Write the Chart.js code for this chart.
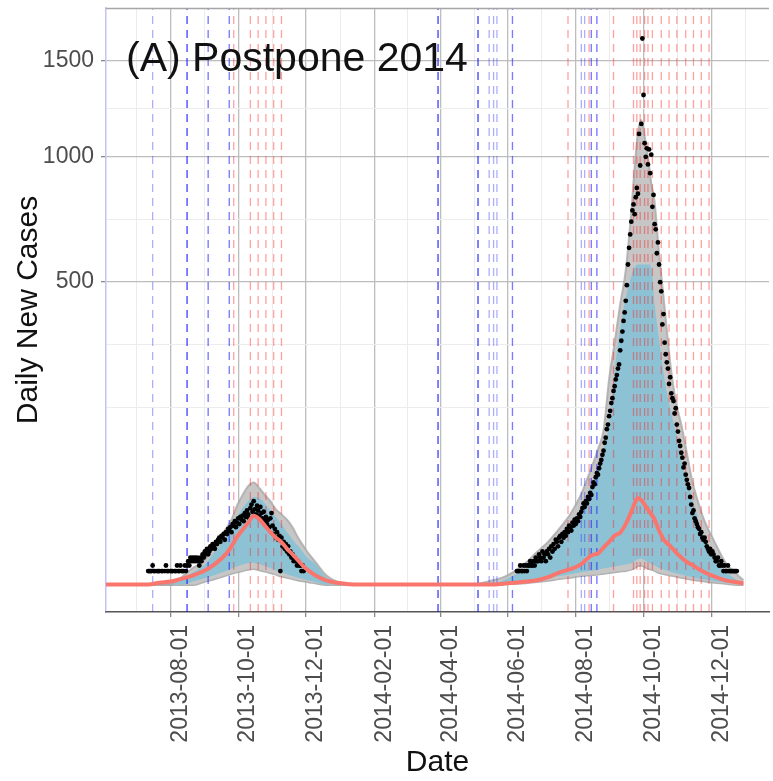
<!DOCTYPE html>
<html>
<head>
<meta charset="utf-8">
<script src="https://cdn.jsdelivr.net/npm/chart.js@4.4.0/dist/chart.umd.min.js"></script>
<style>
  html, body { margin: 0; padding: 0; background: #ffffff; overflow: hidden; }
  #wrap { width: 773px; height: 781px; }
</style>
</head>
<body>
<div id="wrap"><canvas id="c" width="773" height="781"></canvas></div>
<script>
// ---------- axis extents and tick labels ----------
const xStart = '2013-06-04';
const xEnd = '2015-01-22';
const xTickLabels = ['2013-08-01', '2013-10-01', '2013-12-01', '2014-02-01', '2014-04-01',
                     '2014-06-01', '2014-08-01', '2014-10-01', '2014-12-01'];
const yTickValues = [500, 1000, 1500];
const yLimits = [-4.1, 1817];
const panelTitle = '(A) Postpone 2014';

// ---------- control measure dates (dashed markers) ----------
const blueLineDates = [
  '2013-07-16', '2013-08-16', '2013-08-16', '2013-08-16', '2013-09-04', '2013-09-04',
  '2013-09-23', '2013-09-23',
  '2014-03-30', '2014-03-30', '2014-03-30', '2014-05-05', '2014-05-05', '2014-05-05',
  '2014-05-15', '2014-05-19', '2014-05-22', '2014-06-05', '2014-06-05',
  '2014-08-06', '2014-08-09', '2014-08-15', '2014-08-15', '2014-08-20', '2014-08-20'
];
const redLineDates = [
  '2013-09-27', '2013-10-12', '2013-10-19', '2013-10-26', '2013-11-02', '2013-11-09',
  '2014-07-25', '2014-08-13', '2014-09-04', '2014-09-22', '2014-09-25', '2014-09-28',
  '2014-10-02', '2014-10-05', '2014-10-09', '2014-10-17', '2014-10-24', '2014-10-31',
  '2014-11-08', '2014-11-15', '2014-11-22', '2014-11-29'
];

// ---------- simulation summaries, sampled by day offset from 2013-08-01 ----------
const bandDays = [
  -58, -40, -20, -10, 0, 10, 20, 30, 40, 50,
  55, 60, 65, 70, 75, 80, 85, 90, 95, 100,
  105, 110, 115, 120, 125, 130, 140, 150, 170, 200,
  240, 270, 290, 300, 310, 320, 330, 340, 350, 360,
  370, 375, 380, 385, 390, 395, 400, 405, 410, 415,
  418, 421, 424, 427, 430, 433, 436, 440, 445, 450,
  455, 460, 465, 470, 475, 480, 490, 500, 510, 516
];
const meanLine = [
  0, 0, 0, 0.02, 0.05, 0.18, 0.45, 1.0, 2.3, 5.1,
  8, 12.5, 16.5, 21, 26, 23.5, 19, 15, 12, 9.8,
  7, 5, 3.2, 1.8, 1.0, 0.5, 0.1, 0.02, 0, 0,
  0, 0, 0, 0.005, 0.02, 0.05, 0.1, 0.3, 0.8, 1.3,
  2.3, 3.6, 4.8, 5.3, 7.5, 10, 13, 14.8, 20, 29,
  36, 41, 39, 35, 31, 27, 23, 16, 10.5, 8.2,
  5.8, 4, 2.8, 2.1, 1.4, 0.9, 0.35, 0.1, 0.03, 0.01
];
const greyHi = [
  0, 0, 0, 0, 0, 0.3, 1.5, 3, 9, 17,
  23, 34, 44, 53, 57, 51, 44, 38, 31, 27,
  23, 18, 12, 8, 5, 3, 0.5, 0.05, 0, 0,
  0, 0, 0.1, 0.3, 1.0, 2.6, 5.8, 10, 17, 27,
  45, 60, 78, 100, 130, 230, 320, 430, 540, 760,
  950, 1120, 1180, 1100, 1000, 880, 800, 600, 420, 270,
  185, 140, 95, 58, 38, 24, 10, 2.6, 0.6, 0.1
];
const greyLo = [
  0, 0, 0, 0, 0, 0, 0, 0.05, 0.2, 0.5,
  0.7, 0.9, 1.1, 1.3, 1.4, 1.2, 1.0, 0.8, 0.6, 0.4,
  0.3, 0.2, 0.12, 0.08, 0.04, 0.02, 0, 0, 0, 0,
  0, 0, 0, 0.005, 0.01, 0.02, 0.05, 0.1, 0.2, 0.3,
  0.45, 0.5, 0.55, 0.6, 0.7, 0.8, 0.9, 1.0, 1.1, 1.3,
  1.6, 2.0, 2.1, 1.8, 1.5, 1.3, 1.1, 0.8, 0.65, 0.5,
  0.4, 0.3, 0.22, 0.16, 0.11, 0.08, 0.03, 0.01, 0, 0
];
const blueHi = [
  0, 0, 0, 0, 0, 0.1, 0.8, 2, 6, 12,
  17, 25, 32, 38, 42, 41, 36, 30, 25, 20,
  15, 11, 8, 5.5, 3.5, 2.5, 0.3, 0.02, 0, 0,
  0, 0, 0, 0.1, 0.5, 1.3, 2.8, 5.5, 9.5, 16,
  33, 44, 57, 75, 100, 140, 250, 360, 450, 520,
  550, 560, 560, 560, 560, 550, 430, 330, 230, 170,
  128, 85, 60, 40, 24, 13, 3, 0.9, 0.1, 0
];
const blueLo = [
  0, 0, 0, 0, 0, 0, 0.05, 0.2, 0.5, 1,
  1.4, 1.8, 2.2, 2.5, 2.6, 2.3, 1.9, 1.5, 1.1, 0.8,
  0.6, 0.4, 0.25, 0.15, 0.08, 0.04, 0, 0, 0, 0,
  0, 0, 0, 0.01, 0.02, 0.05, 0.1, 0.2, 0.4, 0.6,
  0.85, 0.95, 1.05, 1.2, 1.4, 1.6, 1.8, 2.0, 2.2, 2.5,
  3.0, 3.5, 3.7, 3.2, 2.8, 2.4, 2.0, 1.5, 1.2, 0.9,
  0.7, 0.55, 0.4, 0.3, 0.2, 0.15, 0.06, 0.02, 0.005, 0
];

// ---------- observed daily new cases ----------
const obs2013Start = '2013-07-12';
const obs2013 = [
  1, 1, 1, 1, 2, 1, 1, null, 1, 1, 1, null, 1, 1, null, 1, 2, 1, 1, null,
  1, 1, 1, null, 1, 1, 2, 1, 1, 2,
  1, 1, 1, 2, 1, 2, 3, 2, 4, 3,
  4, 3, 4, 3, 4, 3, 2, 4, 3, 5,
  4, 6, 5, 7, 5, 6, 8, 7, 9, 8,
  7, 10, 9, 11, 12, 10, 13, 12, 14, 11,
  15, 14, 17, 16, 18, 15, 20, 19, 22, 18,
  21, 24, 20, 25, 23, 26, 22, 28, 25, 30,
  27, 24, 32, 35, 29, 38, 31, 27, 34, 30,
  26, 33, 28, 24, 29, 22, 25, 20, 23, 18,
  24, 28, 19, 14, 17, 12, 15, 11, 13, 1,
  12, 8, 10, 7, 9, 6, 8, 5, 6, 4,
  5, 3, 4, 3, 2, 3, 2, 2, 1, 2, 1
];
const obs2014Start = '2014-06-09';
const obs2014 = [
  1, 1, 1, 2, 1, 1, 2, 1, 2, 1,
  2, 2, 3, 2, 2, 3, 2, 4, 3, 3,
  5, 4, 3, 6, 4, 5, 3, 6, 5, 7,
  4, 8, 6, 9, 7, 11, 10, 8, 12, 13,
  10, 14, 12, 15, 13, 17, 15, 19, 18, 16,
  21, 19, 23, 20, 24, 22, 27, 25, 29, 32,
  36, 33, 38, 36, 42, 40, 46, 44, 52, 57,
  55, 63, 68, 66, 74, 80, 85, 92, 98, 110,
  118, 132, 140, 155, 165, 180, 190, 205, 215, 230,
  240, 255, 265, 300, 325, 350, 380, 405, 440, 490,
  560, 620, 670, 720, 765, 790, 750, 820, 860, 835,
  1110, 960, 1160, 1630, 1310, 1065, 1000, 1040, 965, 1035,
  925, 1010, 780, 830, 710, 690, 600, 640, 560, 500,
  470, 370, 400, 320, 290, 270, 255, 220, 235, 200,
  190, 184, 160, 170, 140, 128, 113, 105, 95, 88,
  75, 80, 66, 60, 55, 51, 42, 35, 28, 30,
  24, 22, 20, 18, 17, 14, 15, 12, 11, 12,
  10, 8, 7, 6, 7, 5, 6, 5, 4, 3,
  3, 4, 2, 2, 3, 2, 1, 2, 1, 1,
  2, 1, 1, 1, 1, 1, 1, 1, 1
];

// ---------- helpers ----------
const EPOCH = Date.UTC(2013, 7, 1);
const DAY = 86400000;
const dayOf = s => { const p = s.split('-').map(Number); return (Date.UTC(p[0], p[1] - 1, p[2]) - EPOCH) / DAY; };
const fmtDay = n => new Date(EPOCH + Math.round(n) * DAY).toISOString().slice(0, 10);
const FONT = '"Liberation Sans", Arial, Helvetica, sans-serif';

// square-root value axis (signed, so the padded lower limit can sit below zero)
class SqrtScale extends Chart.LinearScale {
  static id = 'sqrt';
  static defaults = Chart.LinearScale.defaults;
  _t(v) { return v < 0 ? -Math.sqrt(-v) : Math.sqrt(v); }
  getPixelForValue(value) {
    const a = this._t(this.min), b = this._t(this.max);
    return this.getPixelForDecimal((this._t(value) - a) / (b - a));
  }
  getValueForPixel(pixel) {
    const a = this._t(this.min), b = this._t(this.max);
    const t = a + this.getDecimalForPixel(pixel) * (b - a);
    return t < 0 ? -t * t : t * t;
  }
}
Chart.register(SqrtScale);

// major/minor break positions
const majorX = xTickLabels.map(dayOf);
const xStep = majorX[1] - majorX[0];
const minorX = [majorX[0] - xStep / 2];
for (let i = 0; i < majorX.length - 1; i++) minorX.push((majorX[i] + majorX[i + 1]) / 2);
minorX.push(majorX[majorX.length - 1] + xStep / 2);

const rt = yTickValues.map(Math.sqrt);
const rStep = rt[1] - rt[0];
const rb = [rt[0] - rStep, ...rt, rt[rt.length - 1] + rStep];
const minorY = [rb[0] * rb[0]];
for (let i = 0; i < rb.length - 1; i++) minorY.push(((rb[i] + rb[i + 1]) / 2) ** 2);
const minorYIn = minorY.filter(v => v > 0 && v < yLimits[1]);

const isMinor = c => !!(c.tick && c.tick.minor);

// ---------- datasets ----------
const band = arr => bandDays.map((d, i) => ({ x: d, y: arr[i] }));
const obsPoints = (start, vals) => { const d0 = dayOf(start); return vals.map((v, i) => ({ x: d0 + i, y: v })); };
const vline = (dateStr, color) => ({
  data: [{ x: dayOf(dateStr), y: yLimits[0] }, { x: dayOf(dateStr), y: yLimits[1] }],
  borderColor: color, borderWidth: 1.3, borderDash: [8, 6],
  pointRadius: 0, fill: false, order: 3
});

const datasets = [
  { data: band(greyHi), borderColor: 'rgba(165,165,165,0.75)', borderWidth: 2,
    backgroundColor: '#c6c6c6', fill: '+1', pointRadius: 0, cubicInterpolationMode: 'monotone', order: 5 },
  { data: band(greyLo), borderColor: 'rgba(165,165,165,0.85)', borderWidth: 3,
    pointRadius: 0, fill: false, cubicInterpolationMode: 'monotone', order: 5 },
  { data: band(blueHi), borderColor: 'rgba(0,0,0,0)', borderWidth: 0,
    backgroundColor: '#8dc2d5', fill: '+1', pointRadius: 0, cubicInterpolationMode: 'monotone', order: 4 },
  { data: band(blueLo), borderColor: 'rgba(0,0,0,0)', borderWidth: 0,
    pointRadius: 0, fill: false, cubicInterpolationMode: 'monotone', order: 4 },
  ...blueLineDates.map(s => vline(s, 'rgba(30,30,255,0.36)')),
  ...redLineDates.map(s => vline(s, 'rgba(255,30,30,0.42)')),
  { data: [...obsPoints(obs2013Start, obs2013), ...obsPoints(obs2014Start, obs2014)],
    showLine: false, pointRadius: 2.4, pointBackgroundColor: '#000000', pointBorderWidth: 0, order: 1 },
  { data: band(meanLine), borderColor: '#f8766d', borderWidth: 4, pointRadius: 0,
    fill: false, cubicInterpolationMode: 'monotone', order: 0 }
];

// panel top edge and in-panel heading
const panelDecor = {
  id: 'panelDecor',
  afterDatasetsDraw(chart) {
    const { ctx, chartArea: a } = chart;
    ctx.save();
    ctx.strokeStyle = '#a6a6a6';
    ctx.lineWidth = 1.5;
    ctx.beginPath();
    ctx.moveTo(a.left, a.top + 0.5);
    ctx.lineTo(a.right, a.top + 0.5);
    ctx.stroke();
    ctx.font = '41px ' + FONT;
    ctx.fillStyle = '#111111';
    ctx.textAlign = 'left';
    ctx.textBaseline = 'alphabetic';
    ctx.fillText(panelTitle, a.left + 20, a.top + 63);
    ctx.restore();
  }
};

const gridOpts = {
  color: c => isMinor(c) ? '#ececec' : '#bdbdbd',
  lineWidth: c => isMinor(c) ? 1 : 1.3,
  tickColor: c => isMinor(c) ? 'rgba(0,0,0,0)' : '#8a8a8a',
  tickLength: 5,
  drawTicks: true
};

// fixed panel geometry: no extra label padding around the plotting area
const noPad = s => { s.paddingTop = 0; s.paddingBottom = 0; s.paddingLeft = 0; s.paddingRight = 0; };

new Chart(document.getElementById('c'), {
  type: 'line',
  data: { datasets },
  options: {
    responsive: false,
    animation: false,
    devicePixelRatio: 1,
    events: [],
    layout: { padding: { top: 8, right: 0, bottom: 0, left: 0 } },
    plugins: { legend: { display: false }, tooltip: { enabled: false }, title: { display: false } },
    scales: {
      x: {
        type: 'linear',
        min: dayOf(xStart),
        max: dayOf(xEnd),
        afterBuildTicks: s => {
          s.ticks = minorX.map(v => ({ value: v, minor: true })).concat(majorX.map(v => ({ value: v })));
        },
        afterFit: s => { s.height = 169; noPad(s); },
        border: { display: true, color: '#555555', width: 1.5 },
        grid: gridOpts,
        ticks: {
          autoSkip: false, minRotation: 90, maxRotation: 90, padding: 8, labelOffset: 10,
          color: '#4d4d4d', font: { family: FONT, size: 23 },
          callback: (v, i, t) => t[i].minor ? '' : fmtDay(v)
        },
        title: { display: true, text: 'Date', color: '#111111',
                 font: { family: FONT, size: 30 }, padding: { top: 0, bottom: 0 } }
      },
      y: {
        type: 'sqrt',
        min: yLimits[0],
        max: yLimits[1],
        afterBuildTicks: s => {
          s.ticks = minorYIn.map(v => ({ value: v, minor: true })).concat(yTickValues.map(v => ({ value: v })));
        },
        afterFit: s => { s.width = 106; noPad(s); },
        border: { display: true, color: 'rgba(120,120,235,0.45)', width: 1.5 },
        grid: gridOpts,
        ticks: {
          autoSkip: false, padding: 7, color: '#4d4d4d', font: { family: FONT, size: 23 },
          callback: (v, i, t) => t[i].minor ? '' : String(v)
        },
        title: { display: true, text: 'Daily New Cases', color: '#111111',
                 font: { family: FONT, size: 30 }, padding: { top: 11, bottom: 0 } }
      }
    }
  },
  plugins: [panelDecor]
});
</script>
</body>
</html>
